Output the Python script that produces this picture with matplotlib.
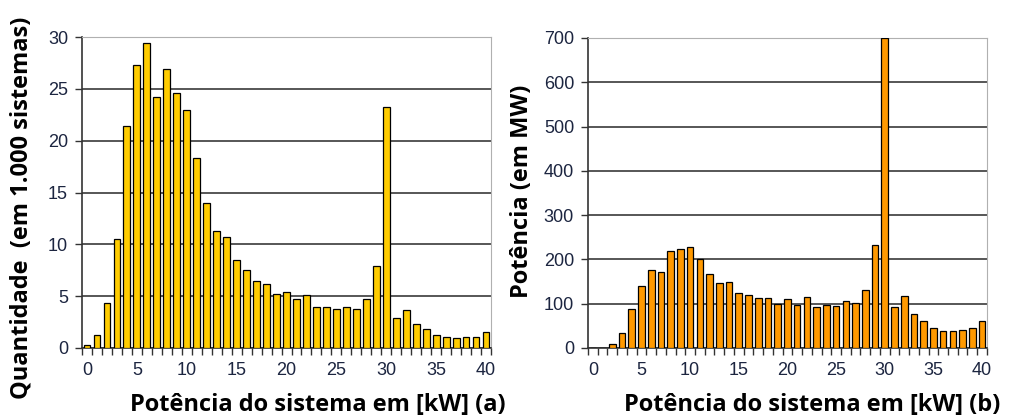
import numpy as np
import matplotlib.pyplot as plt
from matplotlib.ticker import MultipleLocator, FixedLocator

# Dados
potencia_kw = np.arange(0, 41)
quantidade = [0.3, 1.3, 4.3, 10.5, 21.4, 27.3, 29.4, 24.2, 26.9, 24.6,
              23.0, 18.3, 14.0, 11.3, 10.7, 8.5, 7.5, 6.5, 6.2, 5.2,
              5.4, 4.7, 5.1, 4.0, 4.0, 3.8, 4.0, 3.8, 4.7, 7.9,
              23.3, 2.9, 3.7, 2.3, 1.8, 1.3, 1.1, 1.0, 1.1, 1.1,
              1.5]
potencia_mw = [0, 0, 10, 34, 89, 139, 177, 171, 218, 223,
               228, 202, 168, 147, 149, 125, 120, 113, 113, 99,
               110, 98, 116, 92, 98, 94, 107, 101, 131, 233,
               699, 92, 118, 76, 60, 44, 39, 39, 41, 44,
               62]
xticks_lab = [0, 5, 10, 15, 20, 25, 30, 35, 40]

plt.rcParams['font.family'] = 'Liberation Sans'
cor_tick = '#1c2540'
fig = plt.figure(figsize=(10.16, 4.19), dpi=100)
ax1 = fig.add_axes([0.0807, 0.1695, 0.4026, 0.742])
ax2 = fig.add_axes([0.5787, 0.1695, 0.3927, 0.740])

def estilo(ax, valores, cor, ymax, passo):
    ax.bar(potencia_kw, valores, width=0.68, color=cor, edgecolor='black',
           linewidth=0.9, zorder=3)
    ax.set_xlim(-0.5, 40.5)
    ax.set_ylim(0, ymax)
    ax.yaxis.set_major_locator(MultipleLocator(passo))
    ax.set_xticks(xticks_lab)
    ax.xaxis.set_minor_locator(FixedLocator(np.arange(-0.5, 41, 1)))
    ax.tick_params(axis='x', which='major', length=0, pad=10)
    ax.tick_params(axis='x', which='minor', length=5, width=1, color='#333333')
    ax.tick_params(axis='y', length=5, width=1, color='#333333', pad=5)
    ax.tick_params(labelsize=13, labelcolor=cor_tick)
    ax.grid(axis='y', color='#3a3a3a', linewidth=1.2, zorder=0)
    for s in ['top', 'right']:
        ax.spines[s].set_color('#b0b0b0')
    for s in ['left', 'bottom']:
        ax.spines[s].set_color('#333333')
        ax.spines[s].set_linewidth(1.2)

estilo(ax1, quantidade, '#FFCC00', 30, 5)
estilo(ax2, potencia_mw, '#FF9900', 700, 100)

fonte_rot = dict(fontsize=17, fontweight='bold', family='Open Sans')
fig.text(318/1016, 1 - 405/419, 'Potência do sistema em [kW] (a)',
         ha='center', va='center', **fonte_rot)
fig.text(812/1016, 1 - 405/419, 'Potência do sistema em [kW] (b)',
         ha='center', va='center', **fonte_rot)
fig.text(22/1016, 1 - 208/419, 'Quantidade  (em 1.000 sistemas)',
         ha='center', va='center', rotation=90, **fonte_rot)
fig.text(522/1016, 1 - 191/419, 'Potência (em MW)',
         ha='center', va='center', rotation=90, **fonte_rot)

plt.savefig('out.png', dpi=100)
